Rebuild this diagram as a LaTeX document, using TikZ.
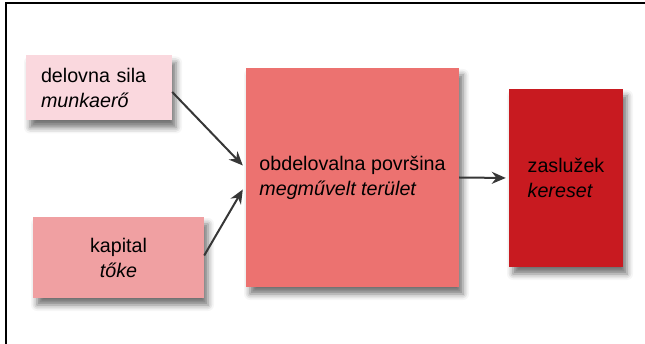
\documentclass[tikz,border=0pt]{standalone}
\usepackage{fontspec}
\setmainfont{Liberation Sans}
\usetikzlibrary{positioning, arrows.meta, shadows.blur}

\definecolor{labourpink}{RGB}{250,216,222}
\definecolor{capitalpink}{RGB}{240,160,162}
\definecolor{landred}{RGB}{236,114,112}
\definecolor{earnred}{RGB}{200,26,32}
\definecolor{arrowgray}{RGB}{55,55,55}

\begin{document}
\begin{tikzpicture}[
    x=1pt, y=-1pt,
    font=\fontsize{19.7}{25}\selectfont,
    box/.style={
      inner sep=0pt,
      blur shadow={shadow xshift=4pt, shadow yshift=-7pt,
        shadow blur radius=6pt, shadow opacity=55}
    },
    arrow/.style={-{Stealth[length=14pt, width=12pt]},
      draw=arrowgray, line width=2pt},
  ]

\useasboundingbox (0,0) rectangle (645,344);

% Frame
\draw[line width=1.5pt] (6,344) -- (6,3) -- (645,3);

% Inputs
\node[box, fill=labourpink, minimum width=146pt, minimum height=65pt,
  text width=116pt, align=left] (labour) at (99,88)
  {delovna sila\\\textit{munkaerő}};
\node[box, fill=capitalpink, minimum width=171pt, minimum height=81pt,
  align=center] (capital) at (118.5,257.5)
  {kapital\\\textit{tőke}};

% Land
\node[box, fill=landred, minimum width=213pt, minimum height=219pt,
  align=left] (land) at (352.5,177.5)
  {obdelovalna površina\\\textit{megművelt terület}};

% Output
\node[box, fill=earnred, minimum width=114pt, minimum height=178pt,
  align=left] (earnings) at (566,178)
  {zaslužek\\\textit{kereset}};

% Arrows
\draw[arrow] ([yshift=-4pt]labour.east) -- ([xshift=-3pt, yshift=12pt]land.west);
\draw[arrow] ([yshift=2pt]capital.east) -- ([xshift=-3pt, yshift=-12pt]land.west);
\draw[arrow, shorten >=3pt] (land.east) -- (earnings.west);

\end{tikzpicture}
\end{document}
